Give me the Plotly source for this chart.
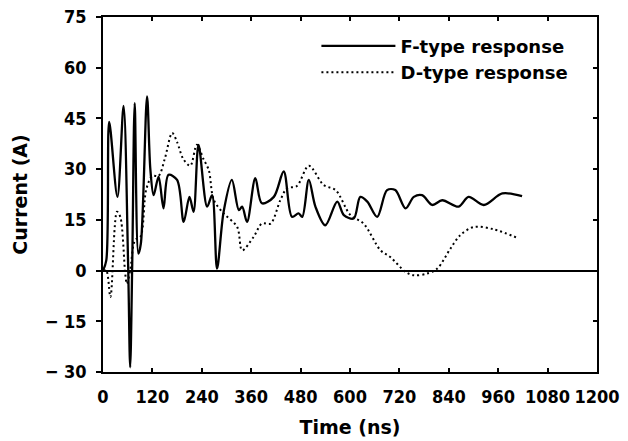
import plotly.graph_objects as go

# ---- data ----
f_time = [0, 8, 15, 35, 50, 61, 66, 71, 77, 86, 92, 107, 115, 123, 135, 147, 159, 180,
          196, 210, 220, 232, 253, 265, 277, 293, 313, 330, 338, 350, 370, 386, 415, 439,
          459, 475, 484, 500, 516, 540, 569, 585, 609, 625, 642, 666, 690, 710, 735, 755,
          775, 800, 824, 864, 888, 925, 970, 1018]
f_current = [0, 3, 44, 21.8, 48.7, 2, -28.6, 2, 49.5, 5, 8, 51.5, 30, 22.3, 27.8, 18.4, 28.3, 26.8,
             14.4, 21.8, 17.4, 37.2, 18.9, 22.3, 0.6, 17.4, 26.8, 17.9, 18.9, 14.4, 27.3, 19.9, 21.8, 29.3,
             15.9, 16.9, 15.9, 26.8, 18.9, 13.4, 20.4, 16.4, 15.4, 21.8, 20.4, 15.9, 23.8, 23.8, 18.4, 21.8,
             22.3, 19.4, 20.8, 18.9, 21.8, 19.4, 22.8, 22.0]

d_time = [0, 8, 18, 34, 42, 54, 58, 66, 78, 91, 105, 120, 135, 150, 168, 180, 195, 212,
          228, 244, 257, 269, 293, 326, 338, 366, 386, 407, 431, 447, 471, 500, 536, 565,
          601, 633, 674, 698, 735, 755, 787, 812, 844, 868, 901, 949, 1010]
d_current = [0, 0, -7.8, 17.4, 15.9, -0.9, -3.9, 0, 9, 10, 24, 28, 28, 33, 40.7, 38, 33, 31,
             37.2, 33, 29.7, 20.9, 16.9, 12.9, 6, 10, 13.9, 13.9, 20.9, 24.3, 25, 31, 25.3, 23.8,
             16.4, 13.9, 6, 4, -0.4, -1.4, -0.9, 0.6, 6.5, 10.5, 12.9, 12.2, 9.5]

x_ticks = [0, 120, 240, 360, 480, 600, 720, 840, 960, 1080, 1200]
y_ticks = [-30, -15, 0, 15, 30, 45, 60, 75]
y_ticklabels = ["\u2212 30", "\u2212 15", "0", "15", "30", "45", "60", "75"]

TICKFONT = dict(family="DejaVu Sans Condensed, DejaVu Sans", size=18, color="black", weight="bold")
TITLEFONT = dict(family="DejaVu Sans", size=19, color="black", weight="bold")

fig = go.Figure()
fig.add_trace(go.Scatter(
    x=f_time, y=f_current, mode="lines", name="F-type response",
    line=dict(color="black", width=2.3, shape="spline", smoothing=0.9),
))
fig.add_trace(go.Scatter(
    x=d_time, y=d_current, mode="lines", name="D-type response",
    line=dict(color="black", width=2, dash="2px,3px", shape="spline", smoothing=0.9),
))
# empty trace so the mirrored top/right axes get drawn
fig.add_trace(go.Scatter(x=[], y=[], xaxis="x2", yaxis="y2", showlegend=False, hoverinfo="skip"))

fig.update_layout(
    width=628, height=441,
    margin=dict(l=103, r=31, t=17, b=69),
    paper_bgcolor="white", plot_bgcolor="white",
    showlegend=True,
    legend=dict(
        x=0.432, y=0.97, xanchor="left", yanchor="top",
        font=dict(family="DejaVu Sans", size=18, color="black", weight="bold"),
        bgcolor="rgba(0,0,0,0)", itemwidth=74,
    ),
    xaxis=dict(
        range=[0, 1200], tickvals=x_ticks, ticktext=[str(v) for v in x_ticks],
        ticks="inside", ticklen=4, tickcolor="black", tickwidth=1.5,
        showline=True, linecolor="black", linewidth=1.5,
        showgrid=False, zeroline=False, automargin=False,
        tickfont=TICKFONT, ticklabelstandoff=8,
        title=dict(text="Time (ns)", font=TITLEFONT, standoff=14),
    ),
    yaxis=dict(
        range=[-30, 75], tickvals=y_ticks, ticktext=y_ticklabels,
        ticks="outside", ticklen=5, tickcolor="black", tickwidth=1.5,
        showline=True, linecolor="black", linewidth=1.5,
        showgrid=False, zeroline=True, zerolinecolor="black", zerolinewidth=2,
        tickfont=TICKFONT, ticklabelstandoff=6, automargin=False,
        title=dict(text="Current (A)", font=TITLEFONT, standoff=12),
    ),
    xaxis2=dict(
        range=[0, 1200], tickvals=x_ticks, overlaying="x", side="top",
        ticks="inside", ticklen=4, tickcolor="black", tickwidth=1.5,
        showline=True, linecolor="black", linewidth=1.5,
        showgrid=False, zeroline=False, showticklabels=False,
    ),
    yaxis2=dict(
        range=[-30, 75], tickvals=y_ticks, overlaying="y", side="right",
        ticks="inside", ticklen=4, tickcolor="black", tickwidth=1.5,
        showline=True, linecolor="black", linewidth=1.5,
        showgrid=False, zeroline=False, showticklabels=False,
    ),
)

fig.write_html("out.html")
